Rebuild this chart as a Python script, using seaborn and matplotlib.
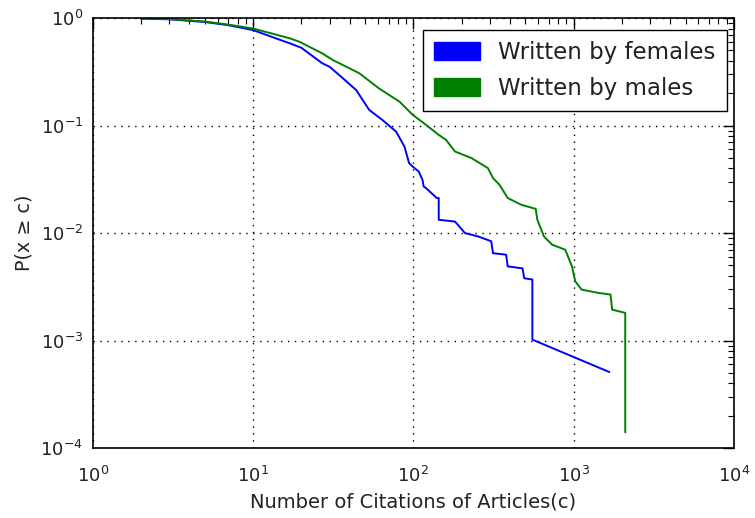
import matplotlib
matplotlib.use("Agg")
import matplotlib.pyplot as plt
from matplotlib.patches import Patch
import seaborn as sns
import pandas as pd

# Complementary cumulative distribution of citation counts
female_c = [2, 3, 5, 7, 10, 14, 17, 20, 27, 30, 36, 44, 53, 64, 78, 88, 94, 99,
            108, 114, 116, 120, 140, 144, 144, 182, 210, 254, 306, 314, 379, 388,
            480, 492, 553, 553, 1670]
female_p = [0.99, 0.975, 0.92, 0.86, 0.774, 0.645, 0.582, 0.53, 0.38, 0.353, 0.279,
            0.214, 0.14, 0.113, 0.088, 0.0638, 0.0448, 0.0416, 0.0374, 0.0313, 0.0271,
            0.0262, 0.0212, 0.0212, 0.0133, 0.0128, 0.0100, 0.0093, 0.0084, 0.0065,
            0.0063, 0.0049, 0.0047, 0.0038, 0.0037, 0.00102, 0.00051]

male_c = [2, 3, 5, 7, 10, 17, 19.5, 27, 31.5, 46, 61, 82, 99, 120, 144, 160, 182,
          231, 292, 314, 345, 388, 469, 580, 594, 653, 735, 887, 977, 1024, 1122,
          1420, 1700, 1740, 2100, 2100]
male_p = [0.995, 0.98, 0.93, 0.87, 0.80, 0.648, 0.602, 0.47, 0.407, 0.307, 0.222,
          0.167, 0.126, 0.1016, 0.082, 0.0736, 0.0574, 0.0498, 0.0402, 0.0325, 0.0281,
          0.0212, 0.0184, 0.0168, 0.0133, 0.0093, 0.0078, 0.0070, 0.0049, 0.00356,
          0.00298, 0.00278, 0.00268, 0.00194, 0.00181, 0.00014]

labels = ["Written by females", "Written by males"]
colors = ["#0000ff", "#008000"]

sns.set_style("white")
plt.rcParams["font.family"] = ["DejaVu Sans"]
plt.rcParams.update({
    "xtick.direction": "in", "ytick.direction": "in",
    "xtick.top": True, "ytick.right": True,
    "xtick.major.size": 8, "ytick.major.size": 8,
    "xtick.minor.size": 4, "ytick.minor.size": 4,
    "xtick.major.width": 1.0, "ytick.major.width": 1.0,
    "xtick.minor.width": 0.8, "ytick.minor.width": 0.8,
    "xtick.color": "black", "ytick.color": "black",
    "xtick.minor.visible": True, "ytick.minor.visible": True,
    "axes.edgecolor": "black", "axes.linewidth": 1.2,
    "text.color": "#222222", "axes.labelcolor": "#222222",
})

df_f = pd.DataFrame({"c": female_c, "p": female_p})
df_m = pd.DataFrame({"c": male_c, "p": male_p})

fig = plt.figure(figsize=(7.55, 5.18), dpi=100)
ax = fig.add_axes([0.123, 0.135, 0.849, 0.830])

sns.lineplot(data=df_f, x="c", y="p", ax=ax, sort=False, estimator=None,
             color=colors[0], lw=1.4)
sns.lineplot(data=df_m, x="c", y="p", ax=ax, sort=False, estimator=None,
             color=colors[1], lw=1.4)

ax.set_xscale("log")
ax.set_yscale("log")
ax.set_xlim(1, 1e4)
ax.set_ylim(1e-4, 1)
ax.grid(True, which="major", color="black", linestyle=(0, (1, 4)), linewidth=1.0)
ax.tick_params(axis="x", labelsize=13, pad=12.5, labelcolor="#222222")
ax.tick_params(axis="y", labelsize=13, pad=7, labelcolor="#222222")
ax.tick_params(which="both", top=True, right=True)

ax.set_xlabel("Number of Citations of Articles(c)", fontsize=14, labelpad=5)
ax.set_ylabel("P(x \u2265 c)", fontsize=13.8, labelpad=5)

handles = [Patch(facecolor=colors[0], edgecolor=colors[0]),
           Patch(facecolor=colors[1], edgecolor=colors[1])]
leg = ax.legend(handles, labels, loc="upper right", fontsize=16.5, frameon=True,
                fancybox=False, shadow=False, handlelength=2.0, handleheight=0.8,
                borderpad=0.48, labelspacing=0.55, handletextpad=0.8,
                borderaxespad=0, bbox_to_anchor=(0.989, 0.972))
leg.get_frame().set_edgecolor("black")
leg.get_frame().set_linewidth(1.0)
leg.get_frame().set_alpha(1.0)

fig.savefig("out.png", dpi=100)
